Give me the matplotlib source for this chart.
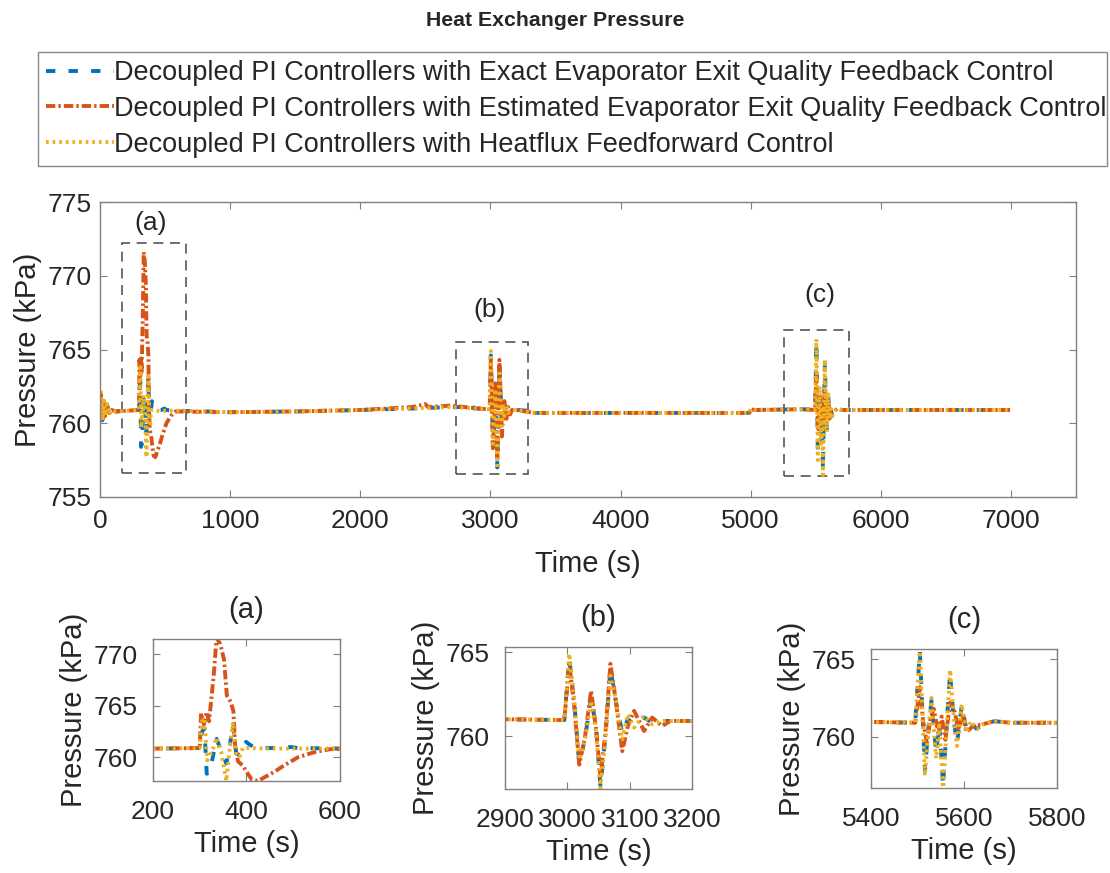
import matplotlib
matplotlib.use("Agg")
import matplotlib.pyplot as plt
from matplotlib.patches import Rectangle

plt.rcParams['font.family'] = ['Liberation Sans', 'DejaVu Sans']

# ---- data (time in s, pressure in kPa) ----
labels = [
    "Decoupled PI Controllers with Exact Evaporator Exit Quality Feedback Control",
    "Decoupled PI Controllers with Estimated Evaporator Exit Quality Feedback Control",
    "Decoupled PI Controllers with Heatflux Feedforward Control",
]

t_exact = [0, 8, 18, 28, 40, 55, 70, 90, 120, 300, 305, 310, 315, 322, 330, 336,
           346, 357, 364, 371, 378, 385, 392, 399, 408, 416, 440, 470, 495, 510, 600,
           1000, 1500, 2000, 2400, 2700, 2840, 2857, 2875, 2900, 2995, 3003, 3011,
           3019, 3028, 3038, 3046, 3053, 3061, 3069, 3078, 3088, 3097, 3107, 3115,
           3123, 3136, 3152, 3165, 3200, 3285, 3295, 3340, 4990, 5000, 5012, 5030,
           5400, 5495, 5505, 5516, 5523, 5530, 5540, 5547, 5555, 5562, 5570, 5578,
           5585, 5595, 5605, 5615, 5627, 5640, 5665, 5700, 7000]
p_exact = [760.1, 761.8, 760.2, 761.5, 760.4, 761.2, 760.6, 760.9, 760.8, 760.9, 762.5, 762.8, 758.4, 758.6, 760.5, 761.8,
           760.6, 759.4, 761.0, 763.2, 760.4, 760.2, 760.9, 761.5, 761.2, 761.0, 760.9, 760.9, 761.0, 760.9, 760.85,
           760.75, 760.8, 760.9, 761.0, 761.1, 761.1, 761.3, 761.0, 761.0, 760.95, 764.6, 762.0,
           758.4, 759.8, 762.3, 760.5, 757.0, 760.0, 764.0, 762.0, 760.2, 761.0, 760.7, 760.9,
           761.1, 760.8, 760.9, 760.9, 760.9, 760.85, 760.55, 760.7, 760.7, 761.1, 760.9, 760.9,
           760.95, 760.9, 765.5, 757.8, 760.5, 762.3, 759.0, 760.8, 756.8, 760.5, 764.1, 761.0,
           759.6, 762.0, 760.5, 760.9, 760.5, 760.8, 761.0, 760.9, 760.9]

t_est = [0, 8, 18, 28, 40, 55, 70, 90, 120, 300, 303, 309, 315, 320, 330, 336,
         344, 352, 358, 366, 372, 376, 382, 392, 400, 412, 425, 440, 460, 480, 510,
         545, 580, 600, 1000, 1500, 2000, 2400, 2500, 2520, 2700, 2900, 2995, 3003,
         3011, 3019, 3028, 3038, 3046, 3053, 3061, 3069, 3078, 3088, 3097, 3107, 3115,
         3123, 3136, 3152, 3165, 3200, 3340, 4990, 5000, 5030, 5400, 5495, 5500, 5505,
         5512, 5520, 5528, 5535, 5545, 5552, 5560, 5570, 5580, 5588, 5596, 5605, 5620,
         5640, 5665, 5700, 7000]
p_est = [760.3, 762.0, 760.3, 761.6, 760.5, 761.2, 760.7, 760.9, 760.8, 760.9, 764.3, 763.2, 764.4, 763.5, 768.0, 771.6,
         771.0, 769.5, 766.0, 765.4, 764.5, 761.0, 759.6, 759.2, 758.6, 757.8, 757.7, 758.1, 758.6, 759.2, 760.0,
         760.5, 760.8, 760.8, 760.75, 760.8, 760.9, 761.1, 761.3, 761.1, 761.2, 761.0, 760.95, 764.3,
         761.8, 758.3, 759.9, 762.7, 760.4, 757.6, 760.2, 764.3, 762.0, 759.1, 760.6, 761.5, 760.9,
         760.3, 761.1, 760.6, 760.9, 760.9, 760.7, 760.7, 760.95, 760.9, 760.95, 760.9, 762.0, 763.2,
         761.0, 759.6, 761.2, 761.8, 760.2, 761.3, 759.8, 762.2, 761.6, 760.4, 761.5, 760.3, 760.7,
         760.8, 761.0, 760.9, 760.9]

t_ff = [0, 8, 18, 28, 40, 55, 70, 90, 120, 300, 305, 310, 316, 322, 330, 336,
        346, 357, 364, 371, 378, 385, 392, 410, 440, 600,
        1000, 1500, 2000, 2400, 2700, 2900, 2995, 3003, 3011, 3019, 3028, 3038, 3046,
        3053, 3061, 3069, 3078, 3088, 3097, 3107, 3115, 3123, 3136, 3152, 3165, 3200,
        3340, 4990, 5000, 5030, 5400, 5495, 5505, 5516, 5523, 5530, 5540, 5547, 5555,
        5562, 5570, 5578, 5585, 5595, 5605, 5615, 5627, 5640, 5665, 5700, 7000]
p_ff = [760.2, 762.1, 760.2, 761.7, 760.5, 761.3, 760.6, 760.9, 760.8, 760.9, 763.5, 763.8, 759.7, 760.2, 761.0, 761.9,
        760.5, 757.7, 760.8, 763.4, 760.4, 760.0, 760.9, 760.9, 760.85, 760.85,
        760.75, 760.8, 760.9, 761.0, 761.1, 761.0, 760.95, 764.9, 762.2, 758.6, 759.7, 762.1, 760.2,
        756.9, 759.8, 763.6, 762.1, 759.8, 761.3, 760.5, 760.9, 761.2, 760.7, 760.9, 760.9, 760.9,
        760.7, 760.7, 761.0, 760.9, 760.95, 760.9, 765.7, 757.5, 760.3, 762.5, 758.6, 760.9, 756.5,
        760.3, 764.3, 761.2, 759.4, 762.1, 760.3, 761.0, 760.5, 760.8, 761.0, 760.9, 760.9]

# zoom windows: (label, x range, y range)
zooms = [("(a)", (200, 600), (757.7, 771.5)),
         ("(b)", (2900, 3200), (756.85, 765.3)),
         ("(c)", (5400, 5800), (756.7, 765.65))]
zoom_xticks = [[200, 400, 600], [2900, 3000, 3100, 3200], [5400, 5600, 5800]]
zoom_yticks = [[760, 765, 770], [760, 765], [760, 765]]

colors = ['#0072BD', '#D95319', '#EDB120']
styles = [(0, (2.4, 3.4)), (0, (2.4, 0.8, 0.6, 0.8)), (0, (0.7, 1.0))]
series = [(t_exact, p_exact), (t_est, p_est), (t_ff, p_ff)]
LW = 2.8
TICK_FS = 19
LABEL_FS = 21
spine_col = '#808080'
text_col = '#262626'


def style_axes(ax, xpad, ypad):
    ax.tick_params(direction='in', top=True, right=True, length=5,
                   labelsize=TICK_FS, colors=spine_col, labelcolor=text_col)
    ax.tick_params(axis='x', pad=xpad)
    ax.tick_params(axis='y', pad=ypad)
    for s in ax.spines.values():
        s.set_color(spine_col)
        s.set_linewidth(1.0)


fig = plt.figure(figsize=(11.1, 8.73), dpi=100)

# ---- main axes ----
ax = fig.add_axes([0.0901, 0.4307, 0.8793, 0.3379])
handles = []
for (t, p), c, ls, lab in zip(series, colors, styles, labels):
    h, = ax.plot(t, p, color=c, linestyle=ls, linewidth=LW, label=lab)
    handles.append(h)
ax.set_xlim(0, 7500)
ax.set_ylim(755, 775)
ax.set_xticks(range(0, 7001, 1000))
ax.set_yticks([755, 760, 765, 770, 775])
ax.set_xlabel("Time (s)", fontsize=LABEL_FS, color=text_col, labelpad=12)
ax.set_ylabel("Pressure (kPa)", fontsize=LABEL_FS, color=text_col)
style_axes(ax, 9, 6)

# dashed boxes marking the zoomed regions
boxes = [((170, 756.6), 490, 15.6, (390, 773.6), "(a)"),
         ((2736, 756.55), 554, 8.95, (2990, 767.7), "(b)"),
         ((5258, 756.4), 500, 9.9, (5530, 768.7), "(c)")]
for xy, w, h, txy, txt in boxes:
    ax.add_patch(Rectangle(xy, w, h, fill=False, edgecolor='#555555',
                           linestyle=(0, (6, 4)), linewidth=1.2))
    ax.text(txy[0], txy[1], txt, fontsize=TICK_FS, color=text_col,
            ha='center', va='center')

# ---- zoomed axes ----
positions = [[0.1378, 0.1054, 0.1685, 0.1627],
             [0.4550, 0.0962, 0.1685, 0.1627],
             [0.7847, 0.0974, 0.1676, 0.1592]]
for pos, (title, xl, yl), xt, yt in zip(positions, zooms, zoom_xticks, zoom_yticks):
    sub = fig.add_axes(pos)
    for (t, p), c, ls in zip(series, colors, styles):
        sub.plot(t, p, color=c, linestyle=ls, linewidth=LW)
    sub.set_xlim(*xl)
    sub.set_ylim(*yl)
    sub.set_xticks(xt)
    sub.set_yticks(yt)
    sub.set_title(title, fontsize=LABEL_FS, color=text_col, pad=15)
    sub.set_xlabel("Time (s)", fontsize=LABEL_FS, color=text_col, labelpad=4)
    sub.set_ylabel("Pressure (kPa)", fontsize=LABEL_FS, color=text_col)
    style_axes(sub, 14, 11)

# ---- legend and title ----
leg = fig.legend(handles, labels, loc='upper left',
                 bbox_to_anchor=(0.0342, 0.811, 0.9631, 0.1294), mode='expand',
                 borderaxespad=0, fontsize=19.5, handlelength=2.5,
                 handletextpad=0.0, labelspacing=0.36, borderpad=0.3,
                 fancybox=False, framealpha=1, edgecolor='#888888')
leg.get_frame().set_linewidth(1.0)
for txt in leg.get_texts():
    txt.set_color(text_col)

fig.text(0.5, 1 - 20 / 873, "Heat Exchanger Pressure", ha='center', va='center',
         fontsize=15.3, fontweight='bold', color=text_col)

fig.savefig("out.png", dpi=100)
